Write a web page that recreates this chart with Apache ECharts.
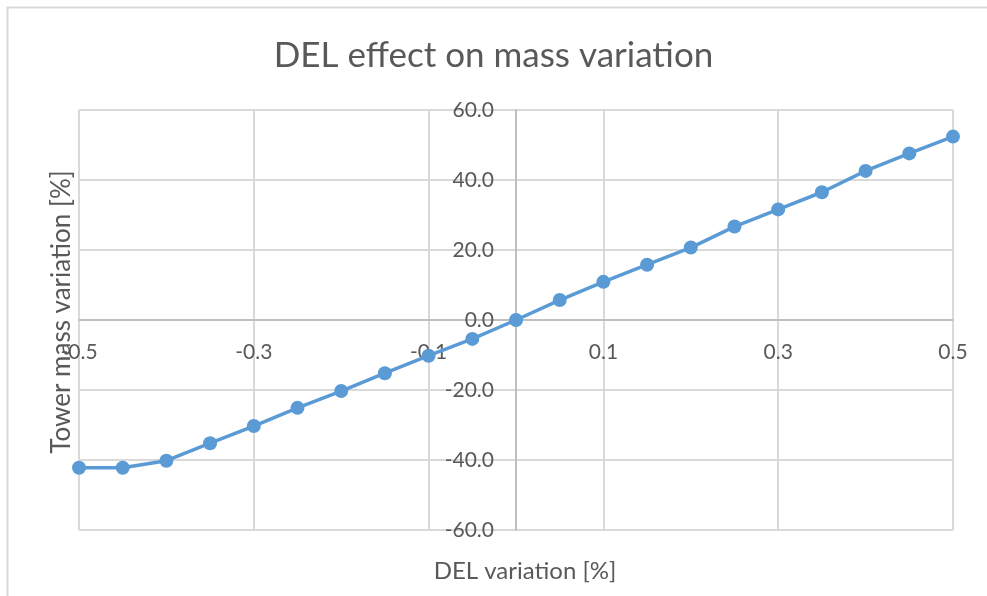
<!DOCTYPE html>
<html>
<head>
<meta charset="utf-8">
<script src="https://cdn.jsdelivr.net/npm/echarts@6/dist/echarts.min.js"></script>
<style>
  html, body { margin: 0; padding: 0; background: #fff; }
  #chart { width: 987px; height: 596px; }
</style>
</head>
<body>
<div id="chart"></div>
<script>
// DEL variation steps [%]
const delVariation = [-0.5, -0.45, -0.4, -0.35, -0.3, -0.25, -0.2, -0.15, -0.1, -0.05, 0,
                      0.05, 0.1, 0.15, 0.2, 0.25, 0.3, 0.35, 0.4, 0.45, 0.5];
// Resulting tower mass variation [%]
const massVariation = [-42.2, -42.2, -40.2, -35.2, -30.3, -25.1, -20.3, -15.2, -10.2, -5.4, 0,
                       5.7, 10.9, 15.8, 20.7, 26.7, 31.6, 36.5, 42.6, 47.6, 52.4];

const titleText = 'DEL effect on mass variation';
const xAxisTitle = 'DEL variation [%]';
const yAxisTitle = 'Tower mass variation [%]';

const FONT = 'Lato, "Open Sans", sans-serif';
const TEXT = '#595959';
const GRID = '#D9D9D9';
const AXIS = '#BFBFBF';
const SERIES = '#5B9BD5';

// plot rectangle
const G = { left: 79, right: 34, top: 110, bottom: 66 };
const W = 987, H = 596;
const plotW = W - G.left - G.right;
const plotH = H - G.top - G.bottom;
const xMin = -0.5, xMax = 0.5, yMin = -60, yMax = 60;
// shift axes so each crosses the other at zero
const xAxisOffset = -plotH * (0 - yMin) / (yMax - yMin);
const yAxisOffset = -plotW * (0 - xMin) / (xMax - xMin);

const chart = echarts.init(document.getElementById('chart'), null, { renderer: 'canvas' });

chart.setOption({
  backgroundColor: '#ffffff',
  animation: false,
  title: {
    text: titleText,
    left: 'center',
    top: 33,
    textStyle: { fontFamily: FONT, fontSize: 35, fontWeight: 'normal', color: TEXT }
  },
  grid: Object.assign({ containLabel: false }, G),
  xAxis: {
    type: 'value',
    min: xMin,
    max: xMax,
    interval: 0.2,
    offset: xAxisOffset,
    axisLine: { onZero: false, lineStyle: { color: AXIS, width: 2 } },
    axisTick: { show: false },
    splitLine: { show: true, lineStyle: { color: GRID, width: 2 } },
    axisLabel: {
      margin: 22,
      fontFamily: FONT,
      fontSize: 21,
      color: TEXT,
      formatter: v => Number(v).toFixed(1)
    }
  },
  yAxis: {
    type: 'value',
    min: yMin,
    max: yMax,
    interval: 20,
    offset: yAxisOffset,
    axisLine: { show: true, onZero: false, lineStyle: { color: AXIS, width: 2 } },
    axisTick: { show: false },
    splitLine: { show: true, lineStyle: { color: GRID, width: 2 } },
    axisLabel: {
      margin: 22,
      fontFamily: FONT,
      fontSize: 21,
      color: TEXT,
      formatter: v => Number(v).toFixed(1)
    }
  },
  graphic: [
    {
      type: 'rect',
      silent: true,
      z: -10,
      shape: { x: 7.5, y: 7.5, width: 1200, height: 1200 },
      style: { fill: 'none', stroke: GRID, lineWidth: 2 }
    },
    {
      type: 'text',
      x: 525,
      y: 571,
      style: {
        text: xAxisTitle,
        fontFamily: FONT,
        fontSize: 24,
        fill: TEXT,
        textAlign: 'center',
        textVerticalAlign: 'middle'
      }
    },
    {
      type: 'text',
      x: 62,
      y: 312,
      rotation: Math.PI / 2,
      z: 10,
      style: {
        text: yAxisTitle,
        fontFamily: FONT,
        fontSize: 26,
        fill: TEXT,
        textAlign: 'center',
        textVerticalAlign: 'middle'
      }
    }
  ],
  series: [
    {
      type: 'line',
      data: delVariation.map((x, i) => [x, massVariation[i]]),
      symbol: 'circle',
      symbolSize: 14,
      lineStyle: { color: SERIES, width: 3.5 },
      itemStyle: { color: SERIES },
      z: 5
    }
  ]
});
</script>
</body>
</html>
